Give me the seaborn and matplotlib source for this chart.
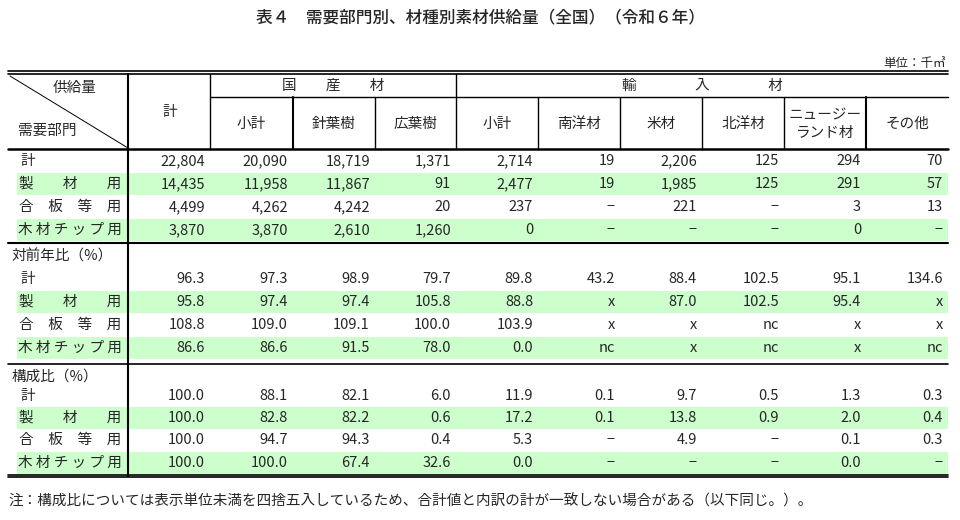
import matplotlib.pyplot as plt
import seaborn as sns

sns.set_style("white")
plt.rcParams["font.family"] = "Noto Sans CJK JP"

# table content
title = "表４　需要部門別、材種別素材供給量（全国）（令和６年）"
unit = "単位：千㎥"
note = "注：構成比については表示単位未満を四捨五入しているため、合計値と内訳の計が一致しない場合がある（以下同じ。）。"
sub_headers = ["小計", "針葉樹", "広葉樹", "小計", "南洋材", "米材", "北洋材", "ニュージー\nランド材", "その他"]
row_labels = ["計", "製　　材　　用", "合　板　等　用", "木 材 チ ッ プ 用"]
sections = ["", "対前年比（%）", "構成比（%）"]

supply = [
    ["22,804", "20,090", "18,719", "1,371", "2,714", "19", "2,206", "125", "294", "70"],
    ["14,435", "11,958", "11,867", "91", "2,477", "19", "1,985", "125", "291", "57"],
    ["4,499", "4,262", "4,242", "20", "237", "−", "221", "−", "3", "13"],
    ["3,870", "3,870", "2,610", "1,260", "0", "−", "−", "−", "0", "−"],
]
yoy = [
    ["96.3", "97.3", "98.9", "79.7", "89.8", "43.2", "88.4", "102.5", "95.1", "134.6"],
    ["95.8", "97.4", "97.4", "105.8", "88.8", "x", "87.0", "102.5", "95.4", "x"],
    ["108.8", "109.0", "109.1", "100.0", "103.9", "x", "x", "nc", "x", "x"],
    ["86.6", "86.6", "91.5", "78.0", "0.0", "nc", "x", "nc", "x", "nc"],
]
share = [
    ["100.0", "88.1", "82.1", "6.0", "11.9", "0.1", "9.7", "0.5", "1.3", "0.3"],
    ["100.0", "82.8", "82.2", "0.6", "17.2", "0.1", "13.8", "0.9", "2.0", "0.4"],
    ["100.0", "94.7", "94.3", "0.4", "5.3", "−", "4.9", "−", "0.1", "0.3"],
    ["100.0", "100.0", "67.4", "32.6", "0.0", "−", "−", "−", "0.0", "−"],
]

fig = plt.figure(figsize=(9.6, 5.2), dpi=100)
ax = fig.add_axes([0, 0, 1, 1])
ax.set_xlim(0, 960)
ax.set_ylim(520, 0)
ax.axis("off")

col_x = [8, 128, 210, 293, 375, 456, 538, 620, 702, 784, 866, 948]
green = "#ccffcc"
fs = 10.5

ax.text(480, 17, title, ha="center", va="center", fontsize=12, fontweight="medium")
ax.text(946, 63, unit, ha="right", va="center", fontsize=9)

# header frame
ax.plot([8, 948], [71, 71], color="black", lw=1.2)
ax.plot([8, 948], [74, 74], color="black", lw=1.2)
ax.plot([8, 948], [149, 149], color="black", lw=1.8)
ax.plot([210, 948], [97, 97], color="black", lw=1)
ax.plot([128, 128], [74, 476], color="black", lw=1.5)
ax.plot([210, 210], [74, 149], color="black", lw=1)
ax.plot([456, 456], [74, 149], color="black", lw=1)
for x in col_x[3:5] + col_x[6:11]:
    ax.plot([x, x], [97, 149], color="black", lw=1.5 if x in (293, 866) else 1)
ax.plot([10, 128], [76, 148], color="black", lw=0.7)
ax.text(75, 88, "供給量", ha="center", va="center", fontsize=fs)
ax.text(18, 131, "需要部門", ha="left", va="center", fontsize=fs)
ax.text(170, 112, "計", ha="center", va="center", fontsize=fs)
ax.text(333, 86, "国　　産　　材", ha="center", va="center", fontsize=fs)
ax.text(702, 86, "輸　　　　入　　　　材", ha="center", va="center", fontsize=fs)
for i, h in enumerate(sub_headers):
    xc = (col_x[i + 2] + col_x[i + 3]) / 2
    ax.text(xc, 124, h, ha="center", va="center", fontsize=fs, linespacing=1.3)

# body
blocks = [(None, [161, 184, 207, 230], supply),
          (256, [279, 302, 325, 348], yoy),
          (377, [396, 418, 440, 463], share)]
for sec, (label_y, ys, vals) in zip(sections, blocks):
    if label_y is not None:
        ax.text(12, label_y, sec, ha="left", va="center", fontsize=fs)
    for r, (y, lab, row) in enumerate(zip(ys, row_labels, vals)):
        if r % 2 == 1:
            ax.fill_between([17, 948], y - 11, y + 11, color=green, lw=0)
        if r == 0:
            ax.text(20, y, lab, ha="left", va="center", fontsize=fs)
        else:
            ax.text(70, y, lab, ha="center", va="center", fontsize=fs)
        for c, v in enumerate(row):
            ax.text(col_x[c + 2] - 5, y, v, ha="right", va="center", fontsize=fs)
ax.plot([8, 948], [243, 243], color="black", lw=1.5)
ax.plot([8, 948], [364, 364], color="black", lw=1.2)
ax.plot([8, 948], [475, 475], color="black", lw=1.2)
ax.plot([8, 948], [477, 477], color="black", lw=1.2)

ax.text(8, 501, note, ha="left", va="center", fontsize=fs)

fig.savefig("out.png", dpi=100)
